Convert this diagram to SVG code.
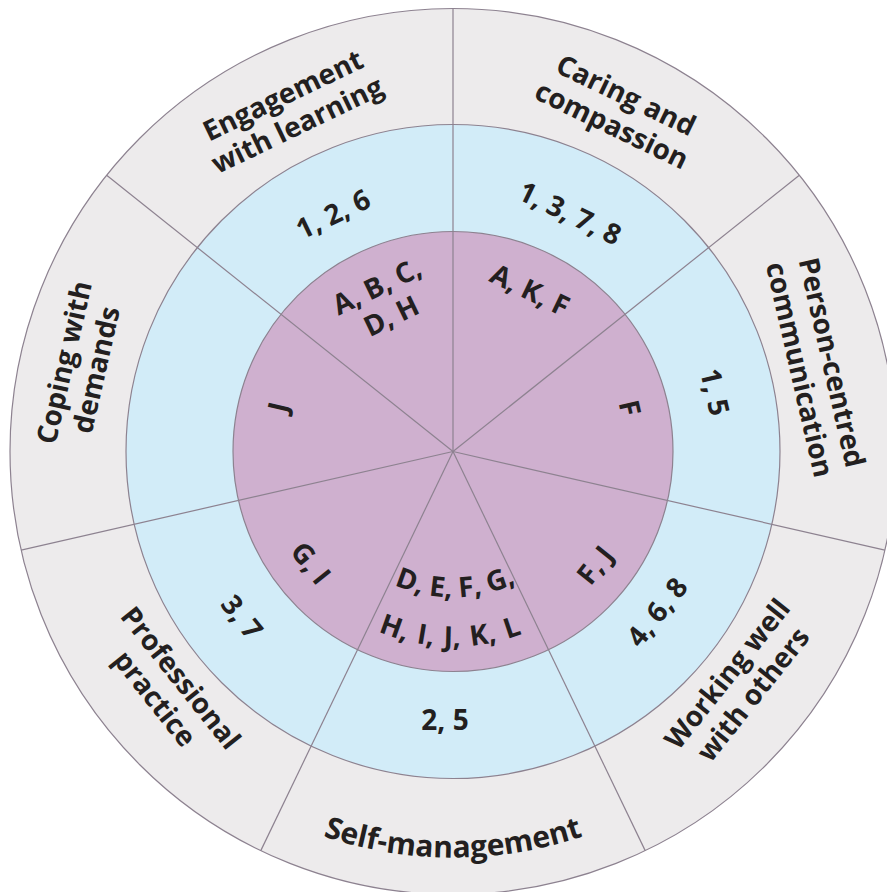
<svg xmlns="http://www.w3.org/2000/svg" width="887" height="892" viewBox="0 0 887 892">
<defs>
<style>
.ring{stroke:#8d8290;stroke-width:1.2}
.outer{fill:#edebec}
.mid{fill:#d2ecf8}
.inner{fill:#cfb0cf}
.div{stroke:#8d8290;stroke-width:1.2;fill:none}
text{font-family:"Open Sans","Liberation Sans",sans-serif;font-weight:700;font-size:28px;fill:#231f20;text-anchor:middle}
.big{font-size:30px}
.wide{word-spacing:3px}
</style>
<path id="selfArc" d="M 165.9 738.6 A 406 406 0 0 0 740.1 738.6"/>
<path id="arcL1" d="M 349.8 554.7 A 146 146 0 0 0 556.2 554.7"/>
<path id="arcL2" d="M 315.1 589.4 A 195 195 0 0 0 590.9 589.4"/>
</defs>
<rect width="887" height="892" fill="#ffffff"/>
<g id="rings">
<circle class="ring outer" cx="453" cy="451.5" r="443"/>
<circle class="ring mid" cx="453" cy="451.5" r="327"/>
<circle class="ring inner" cx="453" cy="451.5" r="220"/>
</g>
<g id="connectors" transform="translate(453,451.5)">
<line class="div" x1="0" y1="0" x2="0" y2="-443"/>
<line class="div" x1="0" y1="0" x2="346.35" y2="-276.21"/>
<line class="div" x1="0" y1="0" x2="431.89" y2="98.58"/>
<line class="div" x1="0" y1="0" x2="192.21" y2="399.13"/>
<line class="div" x1="0" y1="0" x2="-192.21" y2="399.13"/>
<line class="div" x1="0" y1="0" x2="-431.89" y2="98.58"/>
<line class="div" x1="0" y1="0" x2="-346.35" y2="-276.21"/>
</g>
<g id="engagement">
<text transform="translate(290,110) rotate(-25.714)"><tspan x="0" y="-6.5">Engagement</tspan><tspan x="0" y="26.5">with learning</tspan></text>
<text transform="translate(333,214) rotate(-25.714)" y="10">1, 2, 6</text>
<text transform="translate(384,301) rotate(-25.714)"><tspan x="0" y="-6.5">A, B, C,</tspan><tspan x="0" y="26.5">D, H</tspan></text>
</g>
<g id="caring">
<text transform="translate(619,110) rotate(25.714)"><tspan x="0" y="-6.5">Caring and</tspan><tspan x="0" y="26.5">compassion</tspan></text>
<text transform="translate(570,213) rotate(25.714)" y="10">1, 3, 7, 8</text>
<text transform="translate(530,290) rotate(25.714)" y="10">A, K, F</text>
</g>
<g id="person-centred">
<text transform="translate(816,366) rotate(77.143)"><tspan x="0" y="-6.5">Person-centred</tspan><tspan x="0" y="26.5">communication</tspan></text>
<text transform="translate(715,392) rotate(77.143)" y="10">1, 5</text>
<text transform="translate(630,408) rotate(77.143)" y="10">F</text>
</g>
<g id="working-well">
<text transform="translate(740,684) rotate(-51.429)"><tspan x="0" y="-6.5">Working well</tspan><tspan x="0" y="26.5">with others</tspan></text>
<text transform="translate(657,612) rotate(-51.429)" y="10">4, 6, 8</text>
<text transform="translate(595,565) rotate(-51.429)" y="10">F, J</text>
</g>
<g id="self-management">
<text class="big"><textPath href="#selfArc" startOffset="50%">Self-management</textPath></text>
<text transform="translate(445,720)" y="10">2, 5</text>
<text><textPath href="#arcL1" startOffset="51%">D, E, F, G,</textPath></text>
<text class="wide"><textPath href="#arcL2" startOffset="49%">H, I, J, K, L</textPath></text>
</g>
<g id="professional-practice">
<text transform="translate(168,688) rotate(51.429)"><tspan x="0" y="-6.5">Professional</tspan><tspan x="0" y="26.5">practice</tspan></text>
<text transform="translate(242,617) rotate(51.429)" y="10">3, 7</text>
<text transform="translate(311,563) rotate(51.429)" y="10">G, I</text>
</g>
<g id="coping">
<text transform="translate(80,366) rotate(-77.143)"><tspan x="0" y="-6.5">Coping with</tspan><tspan x="0" y="26.5">demands</tspan></text>
<text transform="translate(278,407) rotate(-77.143)" y="10">J</text>
</g>
</svg>
